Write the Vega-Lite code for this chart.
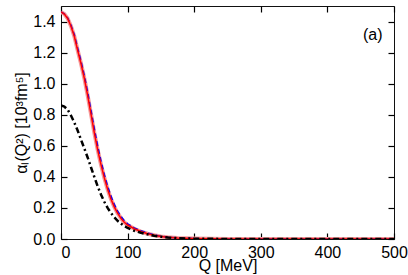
{
  "$schema": "https://vega.github.io/schema/vega-lite/v6.json",
  "width": 333,
  "height": 233,
  "autosize": {"type": "none"},
  "padding": {"left": 61, "top": 6, "right": 14, "bottom": 36},
  "background": "white",
  "config": {
    "view": {"stroke": "#111", "strokeWidth": 1},
    "font": "Liberation Sans",
    "axis": {
      "domain": false,
      "grid": false,
      "labelFont": "Liberation Sans",
      "labelFontSize": 16,
      "labelColor": "#000",
      "titleFont": "Liberation Sans",
      "titleFontSize": 16,
      "titleFontWeight": "normal",
      "titleColor": "#000",
      "labelOverlap": false,
      "labelFlush": false,
      "zindex": 1
    }
  },
  "datasets": {
    "curves": [
      {"s": "R", "Q": 0, "v": 1.462}, {"s": "R", "Q": 5, "v": 1.448}, {"s": "R", "Q": 10, "v": 1.42}, {"s": "R", "Q": 15, "v": 1.37},
      {"s": "R", "Q": 20, "v": 1.305}, {"s": "R", "Q": 25, "v": 1.215}, {"s": "R", "Q": 30, "v": 1.13}, {"s": "R", "Q": 35, "v": 1.035},
      {"s": "R", "Q": 40, "v": 0.925}, {"s": "R", "Q": 45, "v": 0.805}, {"s": "R", "Q": 50, "v": 0.685}, {"s": "R", "Q": 55, "v": 0.575},
      {"s": "R", "Q": 60, "v": 0.48}, {"s": "R", "Q": 65, "v": 0.395}, {"s": "R", "Q": 70, "v": 0.32}, {"s": "R", "Q": 75, "v": 0.258},
      {"s": "R", "Q": 80, "v": 0.207}, {"s": "R", "Q": 85, "v": 0.166}, {"s": "R", "Q": 90, "v": 0.134}, {"s": "R", "Q": 95, "v": 0.108},
      {"s": "R", "Q": 100, "v": 0.09}, {"s": "R", "Q": 110, "v": 0.066}, {"s": "R", "Q": 120, "v": 0.048}, {"s": "R", "Q": 130, "v": 0.034},
      {"s": "R", "Q": 140, "v": 0.024}, {"s": "R", "Q": 150, "v": 0.016}, {"s": "R", "Q": 160, "v": 0.011}, {"s": "R", "Q": 175, "v": 0.006},
      {"s": "R", "Q": 200, "v": 0.0025}, {"s": "R", "Q": 225, "v": 0.001}, {"s": "R", "Q": 250, "v": 0.0005}, {"s": "R", "Q": 300, "v": 0.0001},
      {"s": "R", "Q": 400, "v": 0}, {"s": "R", "Q": 500, "v": 0},
      {"s": "B", "Q": 0, "v": 1.462}, {"s": "B", "Q": 5, "v": 1.449}, {"s": "B", "Q": 10, "v": 1.423}, {"s": "B", "Q": 15, "v": 1.376},
      {"s": "B", "Q": 20, "v": 1.315}, {"s": "B", "Q": 25, "v": 1.228}, {"s": "B", "Q": 30, "v": 1.145}, {"s": "B", "Q": 35, "v": 1.052},
      {"s": "B", "Q": 40, "v": 0.945}, {"s": "B", "Q": 45, "v": 0.828}, {"s": "B", "Q": 50, "v": 0.71}, {"s": "B", "Q": 55, "v": 0.6},
      {"s": "B", "Q": 60, "v": 0.503}, {"s": "B", "Q": 65, "v": 0.416}, {"s": "B", "Q": 70, "v": 0.34}, {"s": "B", "Q": 75, "v": 0.276},
      {"s": "B", "Q": 80, "v": 0.223}, {"s": "B", "Q": 85, "v": 0.18}, {"s": "B", "Q": 90, "v": 0.146}, {"s": "B", "Q": 95, "v": 0.118},
      {"s": "B", "Q": 100, "v": 0.098}, {"s": "B", "Q": 110, "v": 0.072}, {"s": "B", "Q": 120, "v": 0.053}, {"s": "B", "Q": 130, "v": 0.038},
      {"s": "B", "Q": 140, "v": 0.027}, {"s": "B", "Q": 150, "v": 0.018}, {"s": "B", "Q": 160, "v": 0.012}, {"s": "B", "Q": 175, "v": 0.007},
      {"s": "B", "Q": 200, "v": 0.003}, {"s": "B", "Q": 225, "v": 0.0012}, {"s": "B", "Q": 250, "v": 0.0006}, {"s": "B", "Q": 300, "v": 0.0001},
      {"s": "B", "Q": 400, "v": 0}, {"s": "B", "Q": 500, "v": 0},
      {"s": "K", "Q": 0, "v": 0.86}, {"s": "K", "Q": 5, "v": 0.853}, {"s": "K", "Q": 10, "v": 0.832}, {"s": "K", "Q": 15, "v": 0.795},
      {"s": "K", "Q": 20, "v": 0.75}, {"s": "K", "Q": 25, "v": 0.698}, {"s": "K", "Q": 30, "v": 0.64}, {"s": "K", "Q": 35, "v": 0.583},
      {"s": "K", "Q": 40, "v": 0.525}, {"s": "K", "Q": 45, "v": 0.462}, {"s": "K", "Q": 50, "v": 0.4}, {"s": "K", "Q": 55, "v": 0.34},
      {"s": "K", "Q": 60, "v": 0.287}, {"s": "K", "Q": 65, "v": 0.24}, {"s": "K", "Q": 70, "v": 0.2}, {"s": "K", "Q": 75, "v": 0.168},
      {"s": "K", "Q": 80, "v": 0.14}, {"s": "K", "Q": 85, "v": 0.117}, {"s": "K", "Q": 90, "v": 0.099}, {"s": "K", "Q": 95, "v": 0.084},
      {"s": "K", "Q": 100, "v": 0.071}, {"s": "K", "Q": 110, "v": 0.053}, {"s": "K", "Q": 120, "v": 0.04}, {"s": "K", "Q": 130, "v": 0.03},
      {"s": "K", "Q": 140, "v": 0.021}, {"s": "K", "Q": 150, "v": 0.015}, {"s": "K", "Q": 160, "v": 0.01}, {"s": "K", "Q": 175, "v": 0.0055},
      {"s": "K", "Q": 200, "v": 0.0023}, {"s": "K", "Q": 225, "v": 0.001}, {"s": "K", "Q": 250, "v": 0.0005}, {"s": "K", "Q": 300, "v": 0.0001},
      {"s": "K", "Q": 400, "v": 0}, {"s": "K", "Q": 500, "v": 0}
    ],
    "labels": [{"Q": 468, "v": 1.314, "t": "(a)"}]
  },
  "resolve": {"scale": {"x": "shared", "y": "shared"}, "axis": {"x": "independent", "y": "independent"}},
  "layer": [
    {
      "data": {"name": "curves"},
      "transform": [{"filter": "datum.s === 'R'"}],
      "mark": {"type": "line", "color": "#f59a9a", "strokeWidth": 4, "clip": true},
      "encoding": {
        "x": {
          "field": "Q", "type": "quantitative",
          "scale": {"domain": [0, 500], "nice": false, "zero": false},
          "axis": {
            "orient": "bottom",
            "title": "Q [MeV]",
            "titleY": 31,
            "titleBaseline": "alphabetic",
            "ticks": false,
            "values": [0, 100, 200, 300, 400, 500],
            "labelAlign": {"condition": {"test": "datum.value === 0", "value": "left"}, "value": "center"},
            "labelPadding": 5
          }
        },
        "y": {
          "field": "v", "type": "quantitative",
          "scale": {"domain": [0, 1.5], "nice": false, "zero": false},
          "axis": {
            "orient": "left",
            "title": "αₗ(Q²) [10³fm⁵]",
            "titleX": -35,
            "titleBaseline": "alphabetic",
            "format": ".1f",
            "ticks": false,
            "values": [0, 0.2, 0.4, 0.6, 0.8, 1.0, 1.2, 1.4],
            "labelPadding": 6
          }
        }
      }
    },
    {
      "data": {"name": "curves"},
      "transform": [{"filter": "datum.s === 'B'"}],
      "mark": {"type": "line", "color": "#0000ff", "strokeWidth": 1.5, "strokeDash": [5, 3], "clip": true},
      "encoding": {
        "x": {"field": "Q", "type": "quantitative", "axis": null},
        "y": {"field": "v", "type": "quantitative", "axis": null}
      }
    },
    {
      "data": {"name": "curves"},
      "transform": [{"filter": "datum.s === 'R'"}],
      "mark": {"type": "line", "color": "#ff0000", "strokeWidth": 1.5, "clip": true},
      "encoding": {
        "x": {"field": "Q", "type": "quantitative", "axis": null},
        "y": {"field": "v", "type": "quantitative", "axis": null}
      }
    },
    {
      "data": {"name": "curves"},
      "transform": [{"filter": "datum.s === 'K'"}],
      "mark": {"type": "line", "color": "#000000", "strokeWidth": 2.5, "strokeDash": [6, 3, 2, 3], "clip": true},
      "encoding": {
        "x": {
          "field": "Q", "type": "quantitative",
          "axis": {"orient": "top", "title": null, "labels": false, "values": [0, 100, 200, 300, 400, 500], "tickSize": 6, "tickColor": "black", "tickWidth": 1.2, "offset": -6}
        },
        "y": {
          "field": "v", "type": "quantitative",
          "axis": {"orient": "right", "title": null, "labels": false, "values": [0, 0.2, 0.4, 0.6, 0.8, 1.0, 1.2, 1.4], "tickSize": 6, "tickColor": "black", "tickWidth": 1.2, "offset": -6}
        }
      }
    },
    {
      "data": {"name": "labels"},
      "mark": {"type": "text", "fontSize": 16, "font": "Liberation Sans", "color": "#000", "align": "center", "baseline": "middle"},
      "encoding": {
        "x": {
          "field": "Q", "type": "quantitative",
          "axis": {"orient": "bottom", "title": null, "labels": false, "values": [0, 100, 200, 300, 400, 500], "tickSize": 6, "tickColor": "black", "tickWidth": 1.2, "offset": -6}
        },
        "y": {
          "field": "v", "type": "quantitative",
          "axis": {"orient": "left", "title": null, "labels": false, "values": [0, 0.2, 0.4, 0.6, 0.8, 1.0, 1.2, 1.4], "tickSize": 6, "tickColor": "black", "tickWidth": 1.2, "offset": -6}
        },
        "text": {"field": "t"}
      }
    }
  ]
}
